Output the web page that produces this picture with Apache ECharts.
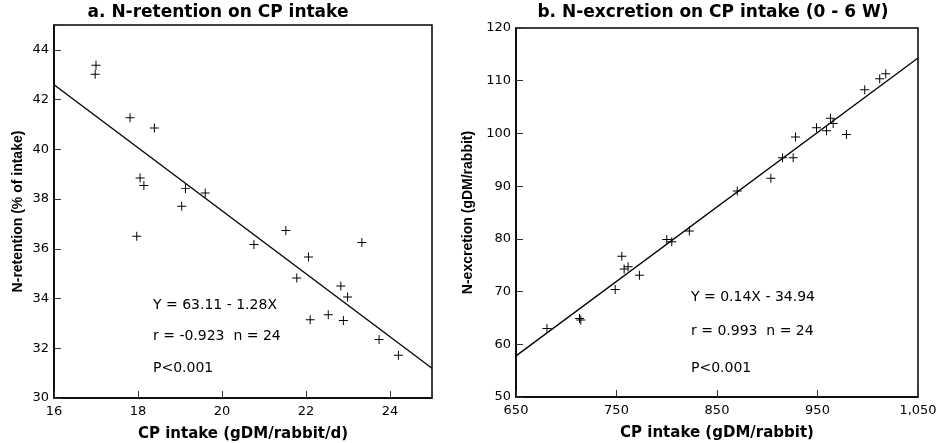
<!DOCTYPE html>
<html><head><meta charset="utf-8">
<script src="https://cdn.jsdelivr.net/npm/echarts@6/dist/echarts.min.js"></script>
<style>html,body{margin:0;padding:0;background:#fff}#c{width:952px;height:443px}</style>
</head><body><div id="c"></div>
<script>
// Panel a: N-retention vs CP intake (gDM/rabbit/d)
const retentionIntake = [17.0, 16.98, 17.81, 18.39, 18.05, 18.14, 17.97, 19.04, 19.13, 19.6, 20.76, 21.52, 22.06, 21.78, 23.33, 22.83, 22.99, 22.10, 22.53, 22.89, 23.74, 24.2];
const retentionPct    = [43.38, 43.02, 41.27, 40.86, 38.85, 38.55, 36.5, 37.71, 38.42, 38.24, 36.17, 36.74, 35.67, 34.83, 36.25, 34.5, 34.06, 33.15, 33.35, 33.12, 32.35, 31.72];
const retentionFitX = [16, 25];
const retentionFitY = [42.6, 31.2];
// Panel b: N-excretion vs CP intake (gDM/rabbit)
const excretionIntake = [680.8, 713.2, 714.5, 748.7, 755.3, 757.6, 761.5, 772.8, 800, 805, 822.5, 870.2, 903.6, 915.2, 925.8, 928.1, 949, 959, 962.9, 965.6, 978.8, 997, 1011.9, 1017.9];
const excretionN      = [62.98, 64.9, 64.6, 70.4, 76.7, 74.3, 74.7, 73.1, 79.9, 79.45, 81.5, 89.1, 91.5, 95.4, 95.4, 99.3, 101.1, 100.5, 102.9, 101.9, 99.8, 108.3, 110.35, 111.3];
const excretionFitX = [650, 1050];
const excretionFitY = [57.8, 114.3];
// Axis ranges / tick labels
const leftX = {min: 16, max: 25, interval: 2, lastLabel: 24};
const leftY = {min: 30, max: 45, interval: 2, lastLabel: 44};
const rightX = {min: 650, max: 1050, interval: 100};
const rightY = {min: 50, max: 120, interval: 10};
const titles = ['a. N-retention on CP intake', 'b. N-excretion on CP intake (0 - 6 W)'];
const xNames = ['CP intake (gDM/rabbit/d)', 'CP intake (gDM/rabbit)'];
const yNames = ['N-retention (% of intake)', 'N-excretion (gDM/rabbit)'];
const notesA = ['Y = 63.11 - 1.28X', 'r = -0.923  n = 24', 'P<0.001'];
const notesB = ['Y = 0.14X - 34.94', 'r = 0.993  n = 24', 'P<0.001'];

const zip = (a, b) => a.map((v, i) => [v, b[i]]);
const cross = 'path://M0,4.45H10V5.55H0ZM4.45,0H5.55V10H4.45Z';
const tickFont = {fontFamily: 'DejaVu Sans', fontSize: 13, color: '#000'};
const nameFont = {fontFamily: 'Liberation Sans', fontSize: 14, fontWeight: 'bold', color: '#000'};
const xNameFont = {fontFamily: 'DejaVu Sans', fontSize: 15, fontWeight: 'bold', color: '#000'};

function xAxis(cfg, gi, name, fmt) {
  return {
    type: 'value', gridIndex: gi, min: cfg.min, max: cfg.max, interval: cfg.interval,
    name: name, nameLocation: 'middle', nameGap: 29, nameTextStyle: xNameFont,
    axisLine: {show: true, onZero: false, lineStyle: {color: '#000', width: 1.5}},
    axisTick: {show: true, inside: true, length: 7, lineStyle: {color: '#333', width: 1}},
    axisLabel: Object.assign({margin: 7, formatter: fmt}, tickFont),
    splitLine: {show: false}
  };
}
function yAxis(cfg, gi, name, gap, fmt) {
  return {
    type: 'value', gridIndex: gi, min: cfg.min, max: cfg.max, interval: cfg.interval,
    name: name, nameLocation: 'middle', nameGap: gap, nameTextStyle: nameFont,
    axisLine: {show: true, onZero: false, lineStyle: {color: '#000', width: 1.5}},
    axisTick: {show: true, inside: true, length: 7, lineStyle: {color: '#333', width: 1}},
    axisLabel: Object.assign({margin: 5, formatter: fmt}, tickFont),
    splitLine: {show: false}
  };
}
function notes(lines, x, ys) {
  return lines.map((t, i) => ({
    type: 'text', left: x, top: ys[i] - 8,
    style: {text: t, fill: '#000', font: '14px "DejaVu Sans", sans-serif'}
  }));
}

const chart = echarts.init(document.getElementById('c'), null, {renderer: 'canvas'});
chart.setOption({
  backgroundColor: '#fff',
  animation: false,
  grid: [
    {left: 54, top: 25, width: 378, height: 373, show: true, borderColor: '#000', borderWidth: 1.5, backgroundColor: '#fff', outerBoundsMode: 'none', containLabel: false},
    {left: 516, top: 28, width: 402, height: 369, show: true, borderColor: '#000', borderWidth: 1.5, backgroundColor: '#fff', outerBoundsMode: 'none', containLabel: false}
  ],
  xAxis: [
    xAxis(leftX, 0, xNames[0], v => (v > leftX.lastLabel ? '' : String(v))),
    xAxis(rightX, 1, xNames[1], v => v.toLocaleString('en-US'))
  ],
  yAxis: [
    yAxis(leftY, 0, yNames[0], 29, v => (v > leftY.lastLabel ? '' : String(v))),
    yAxis(rightY, 1, yNames[1], 41, v => String(v))
  ],
  graphic: [
    {type: 'text', x: 218, y: 13, style: {text: titles[0], fill: '#000', align: 'center', verticalAlign: 'middle', font: 'bold 17px "DejaVu Sans", sans-serif'}},
    {type: 'text', x: 713, y: 13, style: {text: titles[1], fill: '#000', align: 'center', verticalAlign: 'middle', font: 'bold 17px "DejaVu Sans", sans-serif'}}
  ].concat(notes(notesA, 153, [306, 337, 369])).concat(notes(notesB, 691, [298, 332, 369])),
  series: [
    {type: 'line', xAxisIndex: 0, yAxisIndex: 0, data: zip(retentionFitX, retentionFitY), symbol: 'none', lineStyle: {color: '#000', width: 1.3}, silent: true},
    {type: 'scatter', xAxisIndex: 0, yAxisIndex: 0, data: zip(retentionIntake, retentionPct), symbol: cross, symbolSize: 9, itemStyle: {color: '#000', opacity: 1}},
    {type: 'line', xAxisIndex: 1, yAxisIndex: 1, data: zip(excretionFitX, excretionFitY), symbol: 'none', lineStyle: {color: '#000', width: 1.3}, silent: true},
    {type: 'scatter', xAxisIndex: 1, yAxisIndex: 1, data: zip(excretionIntake, excretionN), symbol: cross, symbolSize: 9, itemStyle: {color: '#000', opacity: 1}}
  ]
});
</script>
</body></html>
